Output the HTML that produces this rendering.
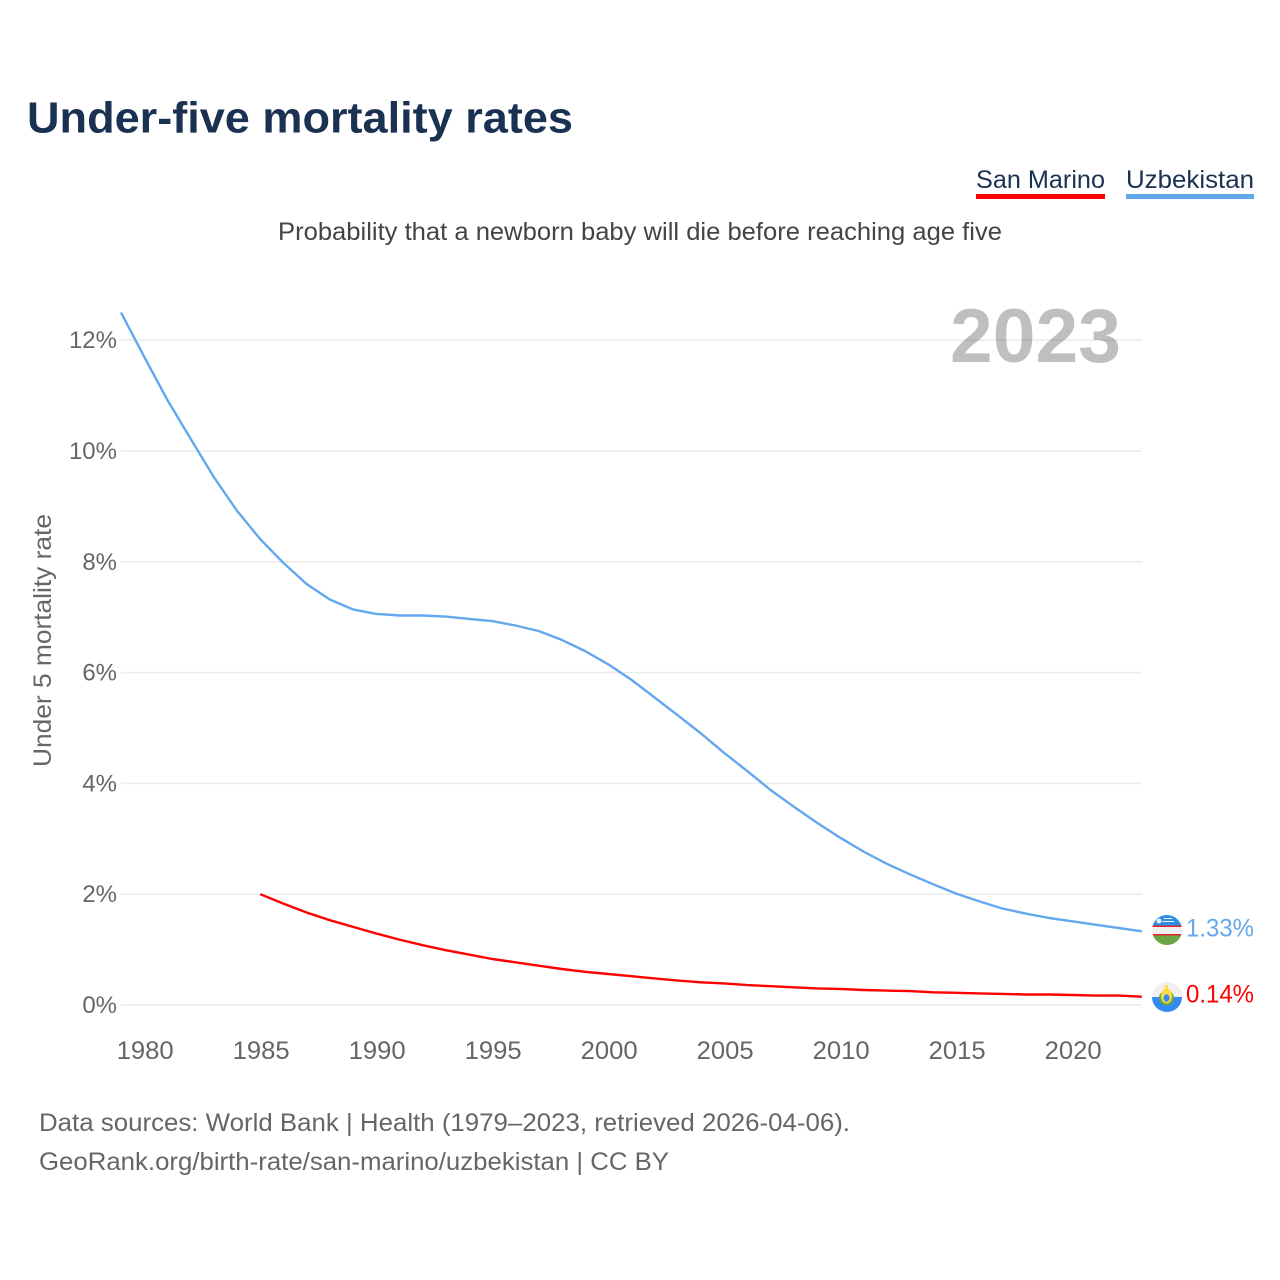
<!DOCTYPE html>
<html lang="en">
<head>
<meta charset="utf-8">
<title>Under-five mortality rates</title>
<style>
html,body{margin:0;padding:0;background:#fff;}
svg{display:block;font-family:"Liberation Sans",sans-serif;}
</style>
</head>
<body>
<svg id="chart" xmlns="http://www.w3.org/2000/svg" width="1280" height="1280" viewBox="0 0 1280 1280">
  <rect width="1280" height="1280" fill="#fff"/>
  <text x="27" y="132.500" font-size="44" font-weight="700" fill="#1a3152" textLength="546" lengthAdjust="spacingAndGlyphs">Under-five mortality rates</text>

  <g>
    <text x="976" y="188" font-size="25" fill="#1a3152" textLength="129" lengthAdjust="spacingAndGlyphs">San Marino</text>
    <rect x="976" y="194" width="129" height="5" fill="#ff0000"/>
  </g>
  <g>
    <text x="1126" y="188" font-size="25" fill="#1a3152" textLength="128" lengthAdjust="spacingAndGlyphs">Uzbekistan</text>
    <rect x="1126" y="194" width="128" height="5" fill="#63a8ee"/>
  </g>

  <text x="278" y="240" font-size="25" fill="#444" textLength="724" lengthAdjust="spacingAndGlyphs">Probability that a newborn baby will die before reaching age five</text>

  <g id="grid"></g>
  <g id="yticks"></g>
  <g id="xticks"></g>
  <text transform="translate(51,767) rotate(-90)" x="0" y="0" font-size="25" fill="#666" textLength="253" lengthAdjust="spacingAndGlyphs">Under 5 mortality rate</text>

  <text x="950" y="362" font-size="76" font-weight="700" fill="#000" fill-opacity="0.25" textLength="171" lengthAdjust="spacingAndGlyphs">2023</text>

  <path id="line-uz" fill="none" stroke="#63a8ee" stroke-width="2.4" stroke-linejoin="round"/>
  <path id="line-sm" fill="none" stroke="#ff0000" stroke-width="2.4" stroke-linejoin="round"/>

  <defs>
    <clipPath id="clip-uz"><circle cx="1167" cy="930" r="15"/></clipPath>
    <clipPath id="clip-sm"><circle cx="1167" cy="997" r="15"/></clipPath>
  </defs>

  <g clip-path="url(#clip-uz)">
    <rect x="1152" y="915" width="30" height="11" fill="#2f8fe8"/>
    <rect x="1152" y="925.500" width="30" height="1.500" fill="#e8202a"/>
    <rect x="1152" y="927" width="30" height="7" fill="#f0f0f0"/>
    <rect x="1152" y="934" width="30" height="1.500" fill="#e8202a"/>
    <rect x="1152" y="935.500" width="30" height="9.500" fill="#6da544"/>
    <rect x="1164" y="918" width="8" height="1" fill="#f0f0f0"/>
    <rect x="1162" y="921" width="12" height="1" fill="#f0f0f0"/>
    <circle cx="1159" cy="921" r="2.400" fill="#f0f0f0"/>
  </g>
  <g clip-path="url(#clip-sm)">
    <rect x="1152" y="982" width="30" height="15" fill="#f0f0f0"/>
    <rect x="1152" y="997" width="30" height="15" fill="#338af3"/>
    <ellipse cx="1166.500" cy="998" rx="7.500" ry="7.500" fill="#6da544"/>
    <ellipse cx="1166.500" cy="996" rx="5.500" ry="7.500" fill="#ffda44"/>
    <ellipse cx="1166.500" cy="998" rx="3" ry="3.800" fill="#338af3"/>
    <rect x="1165" y="985" width="3" height="4" fill="#ffda44"/>
  </g>

  <text id="end-uz" x="1186" y="936.500" font-size="25" fill="#63a8ee" textLength="68" lengthAdjust="spacingAndGlyphs"></text>
  <text id="end-sm" x="1186" y="1002.500" font-size="25" fill="#ff0000" textLength="68" lengthAdjust="spacingAndGlyphs"></text>

  <text x="39" y="1131" font-size="25" fill="#666" textLength="811" lengthAdjust="spacingAndGlyphs">Data sources: World Bank | Health (1979–2023, retrieved 2026-04-06).</text>
  <text x="39" y="1170" font-size="25" fill="#666" textLength="630" lengthAdjust="spacingAndGlyphs">GeoRank.org/birth-rate/san-marino/uzbekistan | CC BY</text>
</svg>
<script>
const years = [1979,1980,1981,1982,1983,1984,1985,1986,1987,1988,1989,1990,1991,1992,1993,1994,1995,1996,1997,1998,1999,2000,2001,2002,2003,2004,2005,2006,2007,2008,2009,2010,2011,2012,2013,2014,2015,2016,2017,2018,2019,2020,2021,2022,2023];
const uzbekistan = [12.5,11.7,10.92,10.22,9.53,8.92,8.41,7.98,7.6,7.32,7.14,7.06,7.03,7.03,7.01,6.97,6.93,6.85,6.75,6.59,6.39,6.15,5.87,5.55,5.23,4.9,4.55,4.22,3.88,3.58,3.29,3.02,2.77,2.55,2.36,2.18,2.01,1.87,1.74,1.65,1.57,1.51,1.45,1.39,1.33];
const sanMarino = [null,null,null,null,null,null,2.0,1.83,1.67,1.53,1.41,1.29,1.18,1.08,0.99,0.91,0.83,0.77,0.71,0.65,0.6,0.56,0.52,0.48,0.44,0.41,0.39,0.36,0.34,0.32,0.3,0.29,0.27,0.26,0.25,0.23,0.22,0.21,0.2,0.19,0.19,0.18,0.17,0.17,0.15];
const yTicks = [0,2,4,6,8,10,12];
const xTicks = [1980,1985,1990,1995,2000,2005,2010,2015,2020];
const endLabels = ["1.33%","0.14%"];

const NS = "http://www.w3.org/2000/svg";
function xScale(year){ return 121 + (year - 1979) * 23.2; }
function yScale(v){ return 1005 - v * 55.4; }
function linePath(vals){
  let d = "";
  vals.forEach(function(v, i){
    if (v === null) return;
    d += (d ? "L" : "M") + xScale(years[i]).toFixed(1) + " " + yScale(v).toFixed(1);
  });
  return d;
}
const grid = document.getElementById("grid");
const yG = document.getElementById("yticks");
const xG = document.getElementById("xticks");
yTicks.forEach(function(t){
  const l = document.createElementNS(NS, "line");
  
  
  l.setAttribute("x1", 121);
  l.setAttribute("x2", 1142);
  l.setAttribute("y1", yScale(t));
  l.setAttribute("y2", yScale(t));
  l.setAttribute("stroke", "#ececec");
  l.setAttribute("stroke-width", "1.6");
  grid.appendChild(l);
  const s = document.createElementNS(NS, "text");
  
  
  s.setAttribute("x", 117);
  s.setAttribute("y", yScale(t) + 8);
  s.setAttribute("text-anchor", "end");
  s.setAttribute("font-size", "24");
  s.setAttribute("fill", "#666");
  s.textContent = t + "%";
  yG.appendChild(s);
});
xTicks.forEach(function(t){
  const s = document.createElementNS(NS, "text");
  
  
  s.setAttribute("x", xScale(t) + 1);
  s.setAttribute("y", 1059);
  s.setAttribute("text-anchor", "middle");
  s.setAttribute("font-size", "25");
  s.setAttribute("fill", "#666");
  s.setAttribute("textLength", "57");
  s.setAttribute("lengthAdjust", "spacingAndGlyphs");
  s.textContent = t;
  xG.appendChild(s);
});
document.getElementById("line-uz").setAttribute("d", linePath(uzbekistan));
document.getElementById("line-sm").setAttribute("d", linePath(sanMarino));
document.getElementById("end-uz").textContent = endLabels[0];
document.getElementById("end-sm").textContent = endLabels[1];
</script>
</body>
</html>
